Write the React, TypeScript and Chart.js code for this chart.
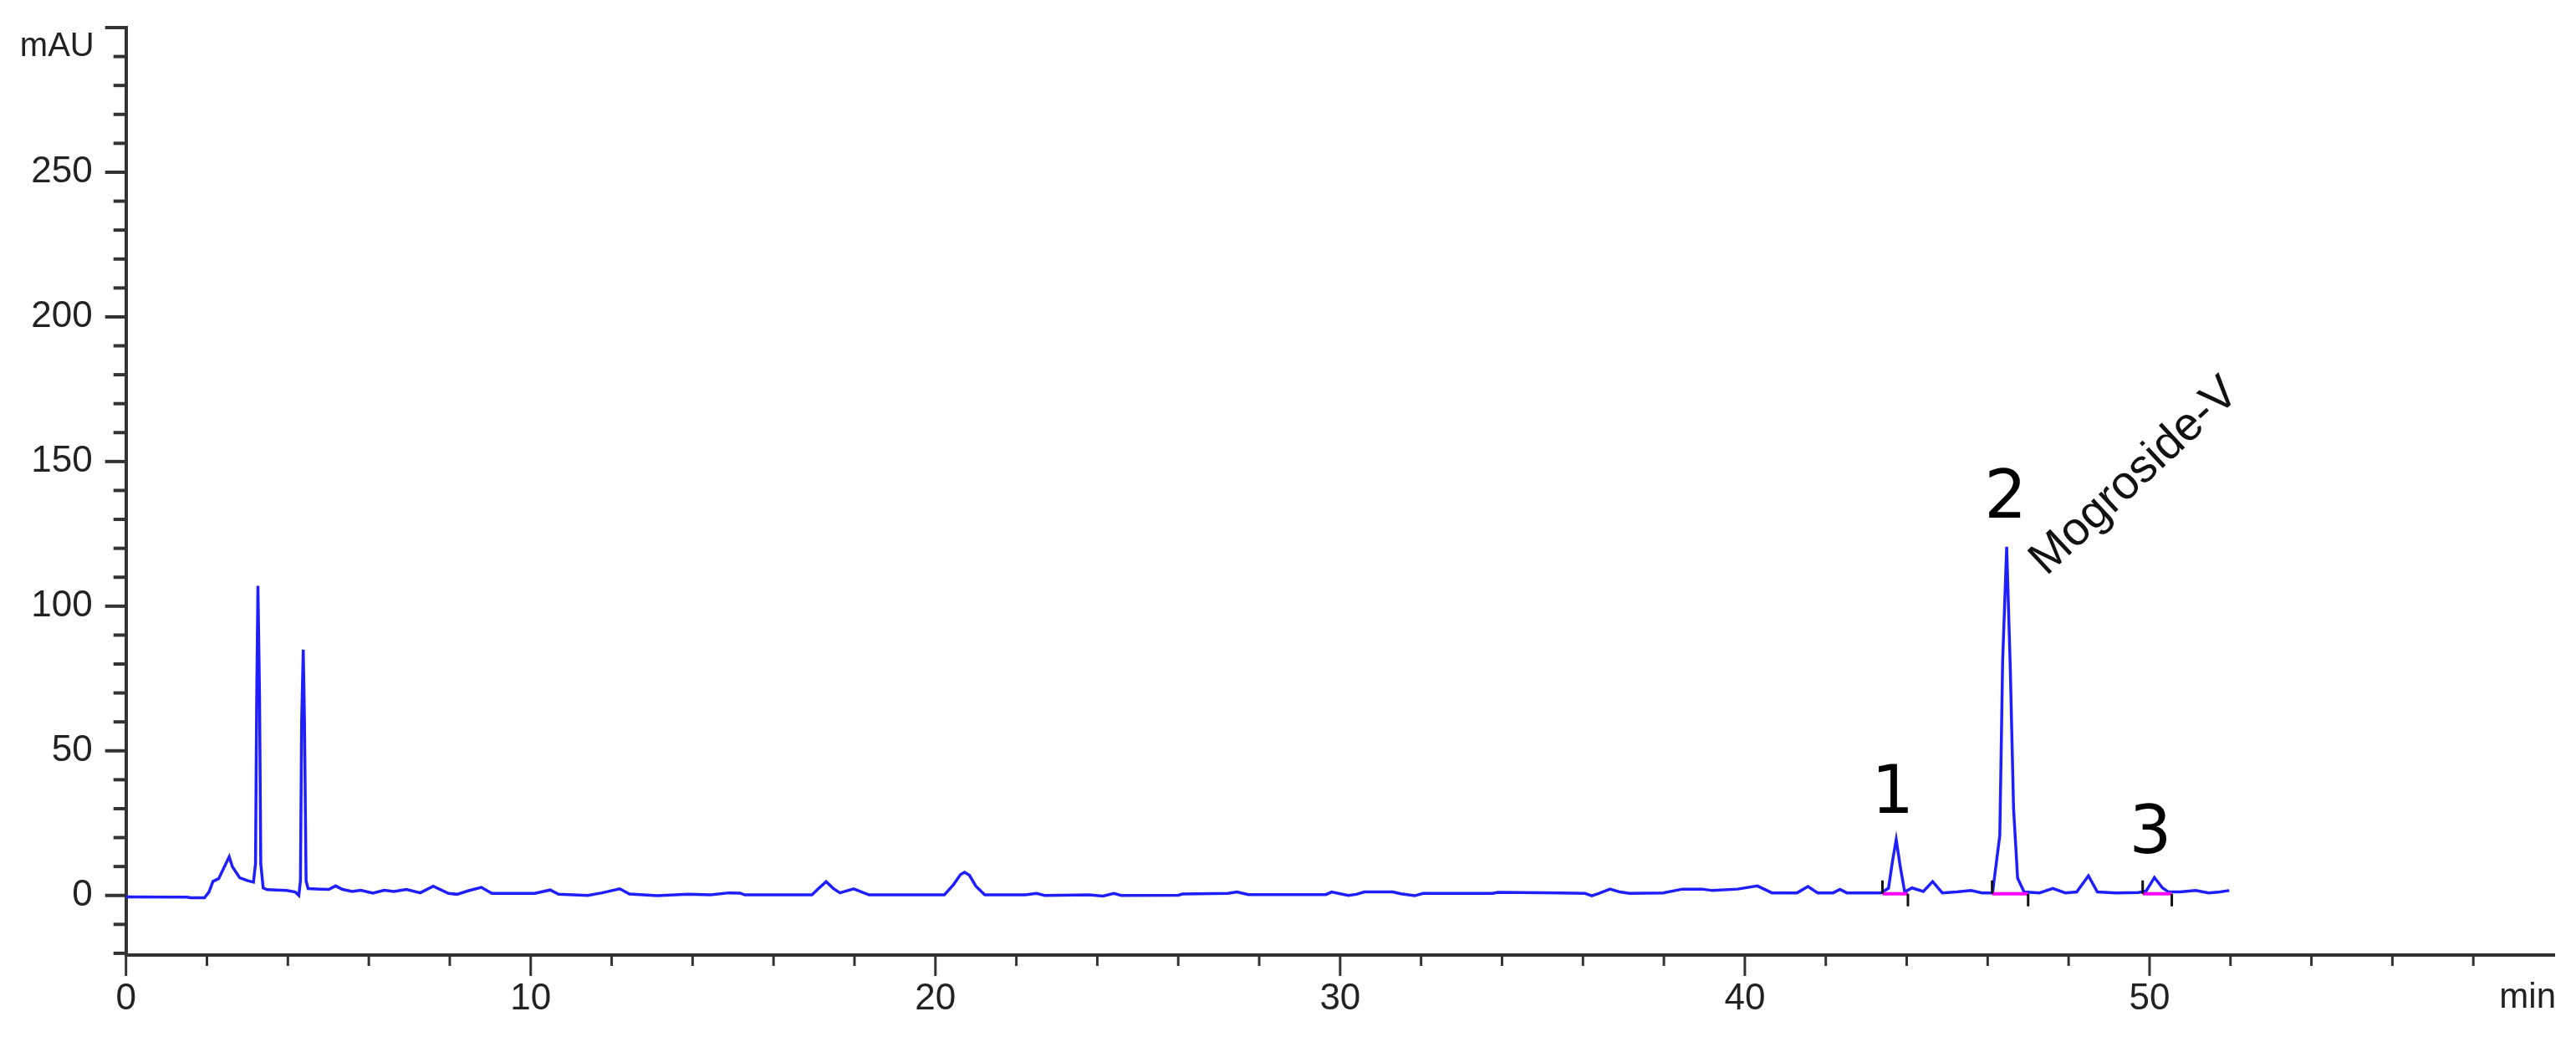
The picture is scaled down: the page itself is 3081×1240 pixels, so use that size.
import React, { useEffect, useRef } from 'react';
import { Chart, registerables } from 'chart.js';

Chart.register(...registerables);

// Chromatogram trace: retention time (min) and absorbance (mAU)
const retentionTimes = [
  0.0, 1.5, 1.6, 1.94, 2.05, 2.15, 2.29, 2.55, 2.63, 2.81, 3.01, 3.15, 3.2, 3.23, 3.26, 3.3, 3.33, 3.39, 3.49, 3.97,
  4.18, 4.27, 4.31, 4.34, 4.38, 4.41, 4.45, 4.5, 4.8, 5.01, 5.18, 5.35, 5.59, 5.8, 6.1, 6.38, 6.62, 6.93, 7.27, 7.59,
  7.97, 8.18, 8.45, 8.78, 9.04, 10.1, 10.48, 10.69, 11.41, 11.76, 12.2, 12.44, 13.13, 13.89, 14.44, 14.9, 15.17, 15.29,
  16.95, 17.12, 17.3, 17.47, 17.64, 17.98, 18.36, 20.22, 20.45, 20.62, 20.72, 20.84, 21.0, 21.22, 22.22, 22.5, 22.7,
  23.8, 24.14, 24.41, 24.59, 26.0, 26.1, 27.23, 27.45, 27.73, 29.65, 29.79, 30.2, 30.4, 30.6, 31.3, 31.5, 31.84, 32.05,
  33.77, 33.9, 35.43, 36.05, 36.22, 36.39, 36.67, 36.91, 37.15, 37.98, 38.46, 38.94, 39.2, 39.82, 40.31, 40.67, 41.29,
  41.56, 41.8, 42.18, 42.35, 42.52, 43.36, 43.55, 43.65, 43.74, 43.84, 43.95, 44.13, 44.41, 44.64, 44.88, 45.23, 45.59,
  45.86, 46.12, 46.3, 46.37, 46.47, 46.56, 46.64, 46.74, 46.9, 47.28, 47.61, 47.92, 48.2, 48.49, 48.71, 49.18, 49.73,
  49.92, 50.12, 50.32, 50.47, 50.75, 51.14, 51.46, 51.74, 51.97,
];
const absorbance = [
  -0.5, -0.6, -0.8, -0.8, 1.2, 4.9, 5.8, 13.4, 9.9, 6.1, 5.1, 4.6, 11, 69, 107, 69, 11, 2.6, 2.0, 1.7,
  1.2, 0.0, 5, 60, 85, 60, 5, 2.4, 2.2, 2.1, 3.3, 2.1, 1.4, 1.8, 0.8, 1.8, 1.4, 2.1, 0.9, 3.2,
  0.7, 0.4, 1.6, 2.8, 0.7, 0.7, 1.9, 0.4, 0.0, 0.9, 2.3, 0.5, -0.1, 0.4, 0.2, 0.9, 0.8, 0.2,
  0.2, 2.5, 4.8, 2.5, 0.9, 2.3, 0.2, 0.2, 3.8, 7.2, 8.0, 7.0, 3.2, 0.2, 0.2, 0.7, 0.0,
  0.2, -0.2, 0.7, 0.0, 0.1, 0.5, 0.7, 1.2, 0.3, 0.3, 1.2, 0.0, 0.4, 1.2, 1.2, 0.6, -0.1, 0.7,
  0.7, 1.1, 0.9, 0.7, -0.1, 0.7, 2.2, 1.2, 0.7, 0.9, 2.2, 2.2, 1.7, 2.2, 3.3, 0.9, 0.9,
  3.1, 0.9, 0.9, 2.1, 0.9, 0.9, 2.5, 12, 19.3, 10, 1.2, 2.6, 1.4, 4.8, 0.9, 1.2, 1.7,
  0.9, 0.9, 20.8, 81, 120.5, 78, 30, 6.0, 1.2, 0.9, 2.4, 0.9, 1.2, 6.8, 1.2, 0.9, 1.0,
  1.6, 6.2, 2.6, 1.2, 1.2, 1.7, 0.9, 1.2, 1.7,
];

// Integrated peaks
const peakNames = ['1', '2', '3'];
const peakLabelTimes = [43.65, 46.44, 50.02];
const peakLabelValues = [28.5, 130.7, 14.7];
const integrationStart = [43.4, 46.11, 49.83];
const integrationEnd = [44.03, 47.0, 50.55];
const integrationBase = [0.6, 0.6, 0.6];

// Compound annotation
const compoundName = 'Mogroside-V';
const compoundTime = 47.45;
const compoundValue = 110.2;

// Axes
const xRange = [0, 60];
const yRange = [-20.6, 300];
const xUnit = 'min';
const yUnit = 'mAU';

const FONT = '"Liberation Sans", Arial, sans-serif';

const decorPlugin = {
  id: 'decor',
  afterDraw(chart: any) {
    const { ctx, chartArea } = chart;
    const xs = chart.scales.x;
    const ys = chart.scales.y;
    ctx.save();
    ctx.strokeStyle = '#333333';
    ctx.lineCap = 'butt';
    // y tick marks
    ctx.lineWidth = 4;
    for (let v = -20; v <= 300; v += 10) {
      const py = ys.getPixelForValue(v);
      const len = v % 50 === 0 ? 25 : 15;
      ctx.beginPath();
      ctx.moveTo(chartArea.left - len, py);
      ctx.lineTo(chartArea.left, py);
      ctx.stroke();
    }
    // x tick marks
    ctx.lineWidth = 3;
    for (let t = 0; t <= 58; t += 2) {
      const px = xs.getPixelForValue(t);
      const len = t % 10 === 0 ? 25 : 13;
      ctx.beginPath();
      ctx.moveTo(px, chartArea.bottom);
      ctx.lineTo(px, chartArea.bottom + len);
      ctx.stroke();
    }
    // unit labels
    ctx.fillStyle = '#222222';
    ctx.font = `40px ${FONT}`;
    ctx.textAlign = 'right';
    ctx.textBaseline = 'middle';
    ctx.fillText(yUnit, chartArea.left - 38, ys.getPixelForValue(yRange[1]) + 23);
    ctx.font = `42px ${FONT}`;
    ctx.textBaseline = 'alphabetic';
    ctx.fillText(xUnit, chartArea.right + 2, chartArea.bottom + 63);

    // integration tick marks
    ctx.strokeStyle = '#111111';
    ctx.lineWidth = 3;
    for (let i = 0; i < peakNames.length; i++) {
      const ps = xs.getPixelForValue(integrationStart[i]);
      const pe = xs.getPixelForValue(integrationEnd[i]);
      const pb = ys.getPixelForValue(integrationBase[i]);
      ctx.beginPath();
      ctx.moveTo(ps, pb);
      ctx.lineTo(ps, pb - 16);
      ctx.moveTo(pe, pb);
      ctx.lineTo(pe, pb + 15);
      ctx.stroke();
    }

    // peak numbers
    ctx.fillStyle = '#000000';
    ctx.font = `80px "DejaVu Sans", sans-serif`;
    ctx.textAlign = 'center';
    ctx.textBaseline = 'alphabetic';
    for (let i = 0; i < peakNames.length; i++) {
      ctx.fillText(peakNames[i], xs.getPixelForValue(peakLabelTimes[i]), ys.getPixelForValue(peakLabelValues[i]));
    }

    // compound name
    ctx.save();
    ctx.translate(xs.getPixelForValue(compoundTime), ys.getPixelForValue(compoundValue));
    ctx.rotate((-43 * Math.PI) / 180);
    ctx.font = `56px ${FONT}`;
    ctx.textAlign = 'left';
    ctx.textBaseline = 'alphabetic';
    ctx.fillStyle = '#111111';
    ctx.fillText(compoundName, 0, 0);
    ctx.restore();

    ctx.restore();
  },
};

export default function App() {
  const canvasRef = useRef<HTMLCanvasElement | null>(null);

  useEffect(() => {
    const canvas = canvasRef.current;
    if (!canvas) return;
    const trace = retentionTimes.map((t, i) => ({ x: t, y: absorbance[i] }));
    const baselines = peakNames.map((_, i) => ({
      type: 'line' as const,
      data: [
        { x: integrationStart[i], y: integrationBase[i] },
        { x: integrationEnd[i], y: integrationBase[i] },
      ],
      borderColor: '#ff00ff',
      borderWidth: 4,
      pointRadius: 0,
      tension: 0,
    }));
    const chart = new Chart(canvas, {
      type: 'line',
      data: {
        datasets: [
          ...baselines,
          {
            data: trace,
            borderColor: 'rgb(30,30,255)',
            borderWidth: 3.5,
            pointRadius: 0,
            tension: 0,
            fill: false,
          },
        ],
      },
      options: {
        animation: false,
        responsive: false,
        devicePixelRatio: 1,
        layout: { padding: { left: 0, top: 33, right: 26, bottom: 0 } },
        plugins: { legend: { display: false }, tooltip: { enabled: false } },
        scales: {
          x: {
            type: 'linear',
            min: xRange[0],
            max: xRange[1],
            afterFit: (scale: any) => {
              scale.height = 98;
            },
            grid: { display: false, drawTicks: false },
            border: { display: true, color: '#333333', width: 4 },
            ticks: {
              stepSize: 2,
              autoSkip: false,
              includeBounds: false,
              maxRotation: 0,
              padding: 26,
              color: '#222222',
              font: { family: FONT, size: 44 },
              callback: (v: any) => (Number(v) % 10 === 0 && Number(v) < 60 ? String(v) : ''),
            },
          },
          y: {
            type: 'linear',
            min: yRange[0],
            max: yRange[1],
            afterFit: (scale: any) => {
              scale.width = 150.7;
            },
            grid: { display: false, drawTicks: true, tickLength: 36 },
            border: { display: true, color: '#333333', width: 4 },
            ticks: {
              stepSize: 10,
              autoSkip: false,
              includeBounds: false,
              padding: 4,
              color: '#222222',
              font: { family: FONT, size: 44 },
              callback: (v: any) => {
                const n = Number(v);
                return n % 50 === 0 && n >= 0 && n < 300 ? String(n) : '';
              },
            },
          },
        },
      },
      plugins: [decorPlugin],
    } as any);
    return () => chart.destroy();
  }, []);

  return (
    <div style={{ position: 'absolute', left: 0, top: 0, width: 3081, height: 1240, background: '#ffffff' }}>
      <canvas ref={canvasRef} width={3081} height={1240} style={{ display: 'block' }} />
    </div>
  );
}
